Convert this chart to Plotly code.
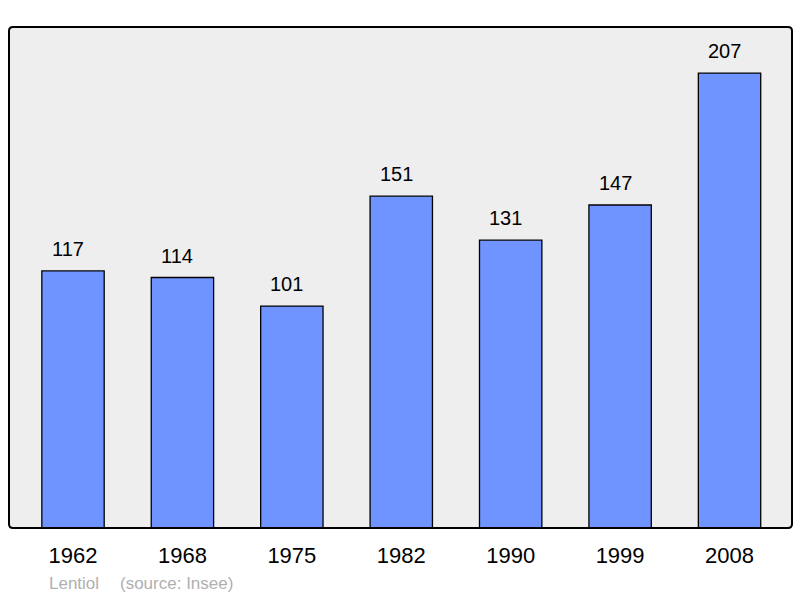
import plotly.graph_objects as go

years = ["1962", "1968", "1975", "1982", "1990", "1999", "2008"]
population = [117, 114, 101, 151, 131, 147, 207]
footer_place = "Lentiol"
footer_source = "(source: Insee)"

W, H = 800, 598
ml, mr, mt, mb = 9, 8, 27, 70
FONT = "Liberation Sans, Arial"

fig = go.Figure()
fig.add_trace(go.Bar(
    x=list(range(len(years))), y=population,
    width=0.57,
    marker=dict(color="#7094FF", line=dict(color="#000000", width=1.3)),
    hoverinfo="skip",
))

for i, v in enumerate(population):
    fig.add_annotation(x=i, y=v, text=str(v), showarrow=False,
                       yanchor="bottom", yshift=9, xshift=-5,
                       font=dict(family=FONT, size=20, color="#000000"))

# rounded border around plot area (paper coords)
pw, ph = W - ml - mr, H - mt - mb
rx, ry = 4 / pw, 4 / ph
path = (f"M {rx},0 L {1-rx},0 Q 1,0 1,{ry} L 1,{1-ry} Q 1,1 {1-rx},1 "
        f"L {rx},1 Q 0,1 0,{1-ry} L 0,{ry} Q 0,0 {rx},0 Z")
fig.add_shape(type="path", xref="paper", yref="paper", path=path,
              line=dict(color="#000000", width=2), layer="above")

fy = -(583 - (H - mb)) / ph
fig.add_annotation(xref="paper", yref="paper", x=(47 - ml) / pw, y=fy,
                   text=footer_place, showarrow=False, xanchor="left", yanchor="middle",
                   font=dict(family=FONT, size=17, color="#B0B0B0"))
fig.add_annotation(xref="paper", yref="paper", x=(118 - ml) / pw, y=fy,
                   text=footer_source, showarrow=False, xanchor="left", yanchor="middle",
                   font=dict(family=FONT, size=17, color="#B0B0B0"))

fig.update_layout(
    width=W, height=H,
    margin=dict(l=ml, r=mr, t=mt, b=mb),
    paper_bgcolor="#FFFFFF", plot_bgcolor="#EEEEEE",
    showlegend=False,
    xaxis=dict(range=[-0.585, 6.571], tickmode="array", tickvals=list(range(len(years))),
               ticktext=years, showgrid=False, zeroline=False, ticks="",
               ticklabelstandoff=12,
               tickfont=dict(family=FONT, size=22, color="#000000")),
    yaxis=dict(range=[0, 228], showgrid=False, zeroline=False, showticklabels=False, ticks=""),
)

fig.write_html("out.html", config={"displayModeBar": False},
               post_script="document.body.style.margin='0px';")
